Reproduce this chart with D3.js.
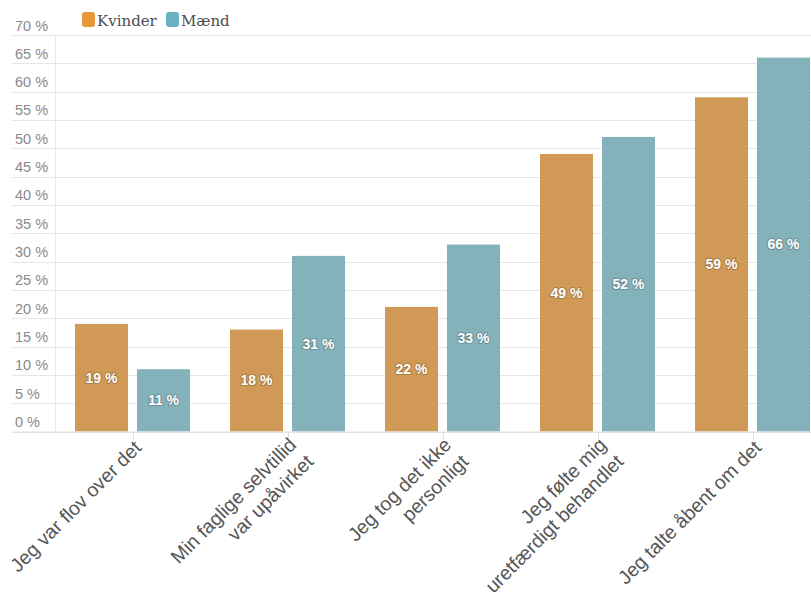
<!DOCTYPE html>
<html>
<head>
<meta charset="utf-8">
<script src="https://cdn.jsdelivr.net/npm/d3@7"></script>
<style>
  html, body { margin: 0; padding: 0; background: #fff; }
  svg { display: block; }
</style>
</head>
<body>
<div id="chart"></div>
<script>
// Survey answers, share of women and men (percent)
const categories = [
  ["Jeg var flov over det"],
  ["Min faglige selvtillid", "var upåvirket"],
  ["Jeg tog det ikke", "personligt"],
  ["Jeg følte mig", "uretfærdigt behandlet"],
  ["Jeg talte åbent om det"]
];
const seriesNames = ["Kvinder", "Mænd"];
const kvinder = [19, 18, 22, 49, 59];
const maend = [11, 31, 33, 52, 66];
const yTicks = [0, 5, 10, 15, 20, 25, 30, 35, 40, 45, 50, 55, 60, 65, 70];

const barColors = ["#D09A56", "#84B2BA"];
const legendColors = ["#E8963A", "#6AB2C0"];

const W = 811, H = 601;
const svg = d3.select("#chart").append("svg")
  .attr("width", W).attr("height", H);

const keys = categories.map(c => c.join(" "));
const values = [kvinder, maend];

const x = d3.scaleBand().domain(keys).range([55.5, 830.5]).padding(0);
const xs = d3.scaleBand().domain(seriesNames).range([19.5, 134.5]).paddingInner(0.145);
const y = d3.scaleLinear().domain([0, 70]).range([431.5, 35]);

// horizontal grid
svg.append("g").selectAll("line").data(yTicks).join("line")
  .attr("x1", 12).attr("x2", W)
  .attr("y1", d => Math.round(y(d)) + 0.5).attr("y2", d => Math.round(y(d)) + 0.5)
  .attr("stroke", "#e6e6e6").attr("stroke-width", 1);

// y labels sitting above their grid lines
svg.append("g").selectAll("text").data(yTicks).join("text")
  .attr("x", 15).attr("y", d => y(d) - 4.5)
  .attr("font-family", "Liberation Sans, Arial, sans-serif")
  .attr("font-size", 14.5).attr("fill", "#8a8a8a")
  .text(d => d + " %");

// vertical axis line
svg.append("line")
  .attr("x1", 55.5).attr("x2", 55.5).attr("y1", y(70)).attr("y2", y(0))
  .attr("stroke", "#e6e6e6");

// bars
const groups = svg.append("g").selectAll("g").data(seriesNames).join("g");
groups.each(function(s, si) {
  const g = d3.select(this);
  const vals = values[si];
  g.selectAll("rect").data(vals).join("rect")
    .attr("x", (v, i) => x(keys[i]) + xs(s))
    .attr("y", v => y(v))
    .attr("width", xs.bandwidth())
    .attr("height", v => y(0) - y(v))
    .attr("fill", barColors[si]);
  g.selectAll("text").data(vals).join("text")
    .attr("x", (v, i) => x(keys[i]) + xs(s) + xs.bandwidth() / 2)
    .attr("y", v => (y(v) + y(0)) / 2)
    .attr("dy", "0.35em")
    .attr("text-anchor", "middle")
    .attr("font-family", "Liberation Sans, Arial, sans-serif")
    .attr("font-size", 14).attr("font-weight", "bold")
    .attr("fill", "#fff")
    .attr("stroke", d3.color(barColors[si]).darker(0.6))
    .attr("stroke-width", 2).attr("stroke-linejoin", "round")
    .attr("paint-order", "stroke")
    .text(v => v + " %");
});

// x axis line and ticks
svg.append("line")
  .attr("x1", 12).attr("x2", W).attr("y1", 432).attr("y2", 432)
  .attr("stroke", "#e2e2e2");
svg.append("g").selectAll("line").data(keys).join("line")
  .attr("x1", d => Math.round(x(d) + x.bandwidth() / 2) + 0.5)
  .attr("x2", d => Math.round(x(d) + x.bandwidth() / 2) + 0.5)
  .attr("y1", 432).attr("y2", 440)
  .attr("stroke", "#e2e2e2");

// rotated category labels
const lh = 24;
const lab = svg.append("g").selectAll("g").data(categories).join("g")
  .attr("transform", (c, i) => {
    const cx = x(keys[i]) + x.bandwidth() / 2;
    const off = c.length > 1 ? 14 : 17;
    return `translate(${cx + 9.5},${432 + off}) rotate(-45)`;
  });
lab.each(function(lines) {
  const t = d3.select(this).append("text")
    .attr("text-anchor", "end")
    .attr("font-family", "Liberation Sans, Arial, sans-serif")
    .attr("font-size", 19.5).attr("fill", "#555");
  lines.forEach((l, j) => {
    t.append("tspan").attr("x", 0).attr("y", j * lh).text(l);
  });
});

// legend
const legend = svg.append("g");
const legendX = [82, 166];
seriesNames.forEach((s, i) => {
  legend.append("rect")
    .attr("x", legendX[i]).attr("y", 12).attr("width", 13).attr("height", 15)
    .attr("rx", 3).attr("fill", legendColors[i]);
  legend.append("text")
    .attr("x", legendX[i] + 15).attr("y", 26)
    .attr("font-family", "DejaVu Serif, Georgia, serif")
    .attr("font-size", 15).attr("fill", "#4d4d4d")
    .text(s);
});
</script>
</body>
</html>
